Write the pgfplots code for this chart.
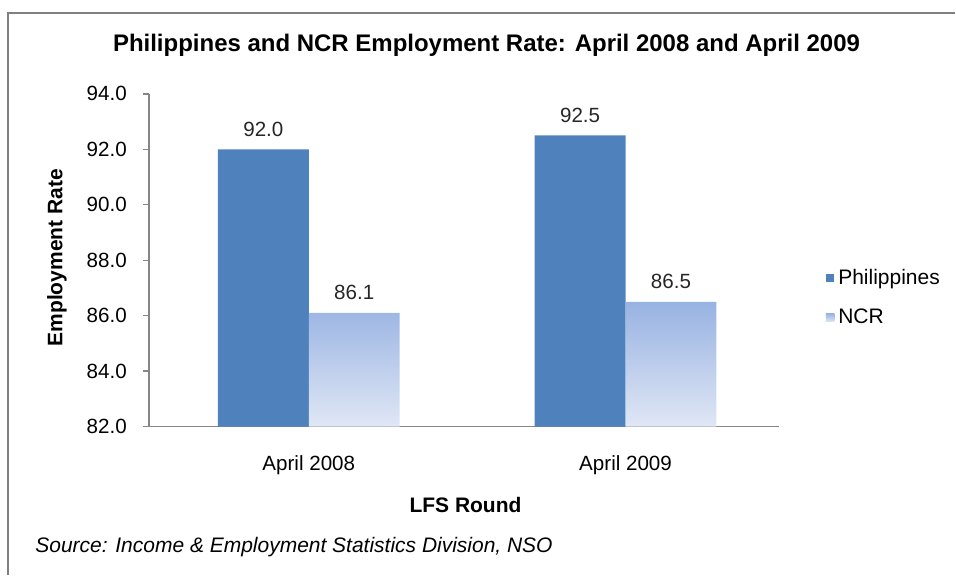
\documentclass[border=0pt]{standalone}
\usepackage{fontspec}
\setmainfont{Liberation Sans}
\usepackage{pgfplots}
\pgfplotsset{compat=1.18}
\definecolor{phil}{RGB}{79,129,189}
\definecolor{ncrtop}{RGB}{152,178,226}
\definecolor{ncrbot}{RGB}{224,231,245}
\definecolor{axgray}{RGB}{134,134,134}
\definecolor{framegray}{RGB}{128,128,128}

\begin{document}
\begin{tikzpicture}
\begin{axis}[
	at={(0,0)}, anchor=south west,
	scale only axis,
	width=315.5pt, height=166.5pt,
	ybar=0pt, bar width=45.5pt,
	xmin=-0.505, xmax=1.485,
	ymin=82, ymax=94,
	xtick={0,1},
	xticklabels={April 2008, April 2009},
	ytick={82,84,...,94},
	axis x line*=bottom,
	axis y line*=left,
	axis line style={axgray, line width=0.7pt},
	xtick style={draw=none},
	ytick style={axgray, line width=0.7pt},
	tick align=outside,
	major tick length=3pt,
	/pgf/number format/assume math mode=true,
	yticklabel style={xshift=-4.5pt, /pgf/number format/fixed, /pgf/number format/fixed zerofill, /pgf/number format/precision=1},
	ticklabel style={font=\fontsize{10.3}{12}\selectfont, text=black},
	xticklabel style={yshift=-8pt},
	nodes near coords,
	nodes near coords style={font=\fontsize{10.3}{12}\selectfont, text=black!85, yshift=3pt,
		/pgf/number format/fixed, /pgf/number format/fixed zerofill, /pgf/number format/precision=1},
	legend style={draw=none, fill=none, at={(1.064,0.387)}, anchor=west,
		font=\fontsize{10.5}{12}\selectfont, row sep=7pt},
	legend cell align=left,
	legend image code/.code={\path[#1, draw=none] (0pt,-2pt) rectangle (4.2pt,2.2pt);},
	clip=false,
]
\addplot[fill=phil, draw=none] coordinates {(0,92.0) (1,92.5)};
\addplot[top color=ncrtop, bottom color=ncrbot, draw=none] coordinates {(0,86.1) (1,86.5)};
\legend{Philippines, NCR}
\end{axis}
% page extent and frame
\path (-74.5pt,-74.5pt) rectangle (403.5pt,213.5pt);
\draw[framegray, line width=1pt] (-70.5pt,-74.5pt) -- (-70.5pt,207pt) -- (403.5pt,207pt);
\node[font=\bfseries\fontsize{12}{14}\selectfont] at (169pt,191pt) {Philippines and NCR Employment Rate: April 2008 and April 2009};
\node[font=\bfseries\fontsize{10.5}{12}\selectfont, rotate=90] at (-46pt,84.5pt) {Employment Rate};
\node[font=\bfseries\fontsize{10.5}{12}\selectfont] at (158.5pt,-39.5pt) {LFS Round};
\node[font=\itshape\fontsize{10.5}{12}\selectfont, anchor=west, inner sep=0pt] at (-57pt,-60.5pt) {Source: Income \& Employment Statistics Division, NSO};
\end{tikzpicture}
\end{document}
